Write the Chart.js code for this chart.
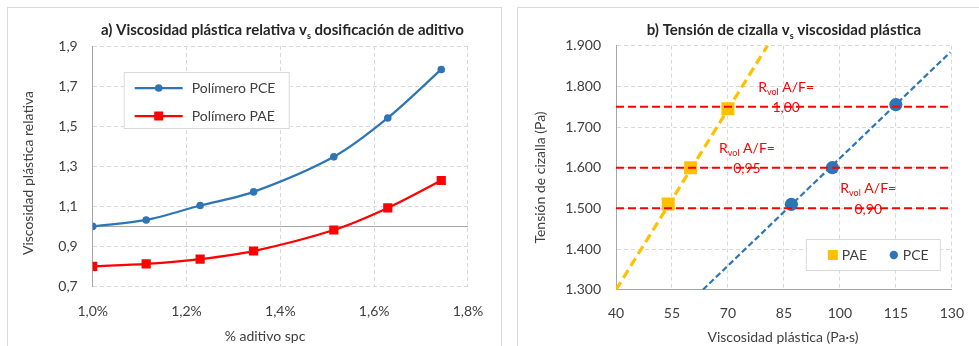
<!DOCTYPE html>
<html><head><meta charset="utf-8">
<script src="https://cdn.jsdelivr.net/npm/chart.js@4/dist/chart.umd.min.js"></script>
<style>
html,body{margin:0;padding:0;background:#fff;width:979px;height:346px;overflow:hidden;}
.frame{position:absolute;border:1px solid #D9D9D9;box-sizing:border-box;}
canvas{position:absolute;left:0;top:0;}
</style></head><body>
<div class="frame" style="left:7px;top:7px;width:495px;height:360px"></div>
<div class="frame" style="left:517px;top:7px;width:480px;height:360px"></div>
<canvas id="c1" width="979" height="346"></canvas>
<canvas id="c2" width="979" height="346"></canvas>
<script>
// ---- Data: chart a) ----
const dosage      = [1.000, 1.114, 1.229, 1.343, 1.514, 1.629, 1.743];   // % aditivo spc
const pceRelVisc  = [1.000, 1.032, 1.104, 1.172, 1.347, 1.541, 1.783];
const paeRelVisc  = [0.800, 0.813, 0.837, 0.877, 0.982, 1.092, 1.229];
const seriesNamesA = ['Polímero PCE', 'Polímero PAE'];
// ---- Data: chart b) ----
const paeViscosity = [54, 60, 70];
const paeStress    = [1511, 1600, 1745];
const pceViscosity = [87, 98, 115];
const pceStress    = [1510, 1600, 1755];
const paeTrendX = [40, 80.6];
const paeTrendY = [1300, 1900];
const pceTrendX = [63.3, 129.6];
const pceTrendY = [1300, 1884];
const ratioLevels = [1500, 1600, 1750];
const ratioValues = ['0,90', '0,95', '1,00'];
const ratioLabelX = [107.6, 75.1, 85.6];
const seriesNamesB = ['PAE', 'PCE'];

const FONT = 'Lato, "Open Sans", sans-serif';
const GRID = '#D9D9D9';
const AXIS = '#A6A6A6';
const TXT = '#404040';
const BLUE = '#2E75B6';
const RED = '#FF0000';
const YEL = '#FFC000';

const comma1 = v => v.toFixed(1).replace('.', ',');
const thousands = v => { const s = String(Math.round(v)); return s.length > 3 ? s.slice(0, s.length-3) + '.' + s.slice(-3) : s; };

function drawSubTitle(ctx, parts, cx, cy, size, color) {
  ctx.save();
  ctx.fillStyle = color;
  ctx.textBaseline = 'alphabetic';
  let total = 0;
  const fontOf = p => (p[2]||'') + ' ' + (p[1] ? Math.round(size*0.62) : size) + 'px ' + FONT;
  const widths = parts.map(p => { ctx.font = fontOf(p); const w = ctx.measureText(p[0]).width; total += w; return w; });
  let x = cx - total/2;
  const base = cy + size*0.35;
  parts.forEach((p, i) => {
    ctx.font = fontOf(p);
    ctx.textAlign = 'left';
    ctx.fillText(p[0], x, base + (p[1] ? size*0.22 : 0));
    x += widths[i];
  });
  ctx.restore();
}

function axisTitle(ctx, text, cx, cy, rotated) {
  ctx.save();
  ctx.translate(cx, cy);
  if (rotated) ctx.rotate(-Math.PI/2);
  ctx.fillStyle = TXT; ctx.font = '14px ' + FONT;
  ctx.textAlign = 'center'; ctx.textBaseline = 'middle';
  ctx.fillText(text, 0, 0);
  ctx.restore();
}

const plugA = {
  id: 'plugA',
  beforeDatasetsDraw(chart) {
    const {ctx, chartArea: a, scales: {y}} = chart;
    const py = Math.round(y.getPixelForValue(1.0)) + 0.5;
    ctx.save(); ctx.strokeStyle = AXIS; ctx.lineWidth = 1;
    ctx.beginPath(); ctx.moveTo(a.left, py); ctx.lineTo(a.right, py); ctx.stroke(); ctx.restore();
  },
  afterDraw(chart) {
    const {ctx, chartArea: a} = chart;
    drawSubTitle(ctx, [['a) Viscosidad plástica relativa v', false, 'bold'], ['s', true, 'bold'], [' dosificación de aditivo', false, 'bold']], (a.left + a.right)/2 + 2, 30, 15, '#262626');
    axisTitle(ctx, 'Viscosidad plástica relativa', 28, 173, true);
    axisTitle(ctx, '% aditivo spc', 265, 336, false);
    // legend
    const lx = a.left + 31, ly = 72;
    ctx.save();
    ctx.fillStyle = '#fff'; ctx.fillRect(lx, ly, 166, 57);
    ctx.strokeStyle = GRID; ctx.lineWidth = 1; ctx.strokeRect(lx + 0.5, ly + 0.5, 165, 56);
    const rows = [[BLUE, 'circle', seriesNamesA[0], ly + 16], [RED, 'rect', seriesNamesA[1], ly + 44]];
    rows.forEach(r => {
      ctx.strokeStyle = r[0]; ctx.fillStyle = r[0]; ctx.lineWidth = 2.25;
      ctx.beginPath(); ctx.moveTo(lx + 11, r[3]); ctx.lineTo(lx + 59, r[3]); ctx.stroke();
      if (r[1] === 'circle') { ctx.beginPath(); ctx.arc(lx + 35, r[3], 3.8, 0, Math.PI*2); ctx.fill(); }
      else ctx.fillRect(lx + 35 - 4.5, r[3] - 4.5, 9, 9);
      ctx.fillStyle = TXT; ctx.font = '14px ' + FONT; ctx.textBaseline = 'middle'; ctx.textAlign = 'left';
      ctx.fillText(r[2], lx + 68, r[3]);
    });
    ctx.restore();
  }
};

new Chart(document.getElementById('c1'), {
  type: 'line',
  data: { datasets: [
    { label: seriesNamesA[0], data: dosage.map((x, i) => ({x, y: pceRelVisc[i]})), borderColor: BLUE, backgroundColor: BLUE, borderWidth: 2.25, pointRadius: 3.8, pointStyle: 'circle', pointBorderWidth: 0, tension: 0.3 },
    { label: seriesNamesA[1], data: dosage.map((x, i) => ({x, y: paeRelVisc[i]})), borderColor: RED, backgroundColor: RED, borderWidth: 2.25, pointRadius: 6.5, pointStyle: 'rect', pointBorderWidth: 0, tension: 0.3 }
  ]},
  options: {
    responsive: false, animation: false, devicePixelRatio: 1,
    layout: { padding: { left: 0, top: 46, right: 511, bottom: 0 } },
    plugins: { legend: { display: false }, title: { display: false }, tooltip: { enabled: false } },
    scales: {
      x: { type: 'linear', min: 1.0, max: 1.8,
        ticks: { stepSize: 0.2, padding: 17, color: TXT, font: { family: FONT, size: 14 }, callback: v => comma1(v) + '%' },
        grid: { color: GRID, drawTicks: false }, border: { display: false, dash: [4, 3] },
        title: { display: false },
        afterFit(s) { s.height = 59.5; } },
      y: { min: 0.7, max: 1.9,
        ticks: { stepSize: 0.2, padding: 15, color: TXT, font: { family: FONT, size: 14 }, callback: v => comma1(v) },
        grid: { color: GRID, drawTicks: false }, border: { display: true, color: AXIS, dash: [4, 3] },
        title: { display: false },
        afterFit(s) { s.width = 92.7; } }
    }
  },
  plugins: [plugA]
});

const plugB = {
  id: 'plugB',
  afterDatasetsDraw(chart) {
    const {ctx, scales: {x, y}} = chart;
    ratioLevels.forEach((lvl, i) => {
      const px = x.getPixelForValue(ratioLabelX[i]);
      const py = y.getPixelForValue(lvl);
      ctx.save();
      ctx.fillStyle = RED; ctx.textBaseline = 'middle'; ctx.textAlign = 'center';
      ctx.font = '14px ' + FONT;
      ctx.fillText(ratioValues[i], px, py + 1);
      ctx.restore();
      drawSubTitle(ctx, [['R', false], ['vol', true], [' A/F=', false]], px, py - 20, 14, RED);
    });
  },
  afterDraw(chart) {
    const {ctx, chartArea: a} = chart;
    drawSubTitle(ctx, [['b) Tensión de cizalla v', false, 'bold'], ['s', true, 'bold'], [' viscosidad plástica', false, 'bold']], (a.left + a.right)/2, 30, 15, '#262626');
    axisTitle(ctx, 'Tensión de cizalla (Pa)', 540, 177.5, true);
    axisTitle(ctx, 'Viscosidad plástica (Pa·s)', 783, 337, false);
    // legend
    const lx = a.right - 146, ly = 239;
    ctx.save();
    ctx.fillStyle = '#fff'; ctx.fillRect(lx, ly, 135, 32);
    ctx.strokeStyle = GRID; ctx.lineWidth = 1; ctx.strokeRect(lx + 0.5, ly + 0.5, 134, 31);
    const cy = ly + 16;
    ctx.fillStyle = YEL; ctx.fillRect(lx + 22, cy - 5, 10, 10);
    ctx.fillStyle = BLUE; ctx.beginPath(); ctx.arc(lx + 88, cy, 4.2, 0, Math.PI*2); ctx.fill();
    ctx.fillStyle = TXT; ctx.font = '14px ' + FONT; ctx.textBaseline = 'middle'; ctx.textAlign = 'left';
    ctx.fillText(seriesNamesB[0], lx + 36, cy);
    ctx.fillText(seriesNamesB[1], lx + 97, cy);
    ctx.restore();
  }
};

const lineDs = (xs, ys, color, width, dash) => ({ type: 'line', data: xs.map((v, i) => ({x: v, y: ys[i]})), borderColor: color, borderWidth: width, borderDash: dash, pointRadius: 0, fill: false, showLine: true });

new Chart(document.getElementById('c2'), {
  type: 'scatter',
  data: { datasets: [
    ...ratioLevels.map(l => lineDs([40, 130], [l, l], RED, 2, [8, 4])),
    lineDs(paeTrendX, paeTrendY, YEL, 3.2, [9, 5]),
    lineDs(pceTrendX, pceTrendY, BLUE, 2.2, [6, 3]),
    { label: seriesNamesB[0], data: paeViscosity.map((v, i) => ({x: v, y: paeStress[i]})), backgroundColor: YEL, borderWidth: 0, pointStyle: 'rect', pointRadius: 9.2 },
    { label: seriesNamesB[1], data: pceViscosity.map((v, i) => ({x: v, y: pceStress[i]})), backgroundColor: BLUE, borderWidth: 0, pointStyle: 'circle', pointRadius: 6.6 }
  ]},
  options: {
    responsive: false, animation: false, devicePixelRatio: 1,
    layout: { padding: { left: 517, top: 45.7, right: 19.7, bottom: 0 } },
    plugins: { legend: { display: false }, title: { display: false }, tooltip: { enabled: false } },
    scales: {
      x: { type: 'linear', min: 40, max: 130,
        ticks: { stepSize: 15, padding: 15, color: TXT, font: { family: FONT, size: 14 } },
        grid: { color: GRID, drawTicks: false }, border: { display: true, color: AXIS, dash: [4, 3] },
        title: { display: false },
        afterFit(s) { s.height = 56.3; } },
      y: { min: 1300, max: 1900,
        ticks: { stepSize: 100, padding: 15, color: TXT, font: { family: FONT, size: 14 }, callback: v => thousands(v) },
        grid: { color: GRID, drawTicks: false }, border: { display: true, color: AXIS, dash: [4, 3] },
        title: { display: false },
        afterFit(s) { s.width = 99; } }
    }
  },
  plugins: [plugB]
});
</script>
</body></html>
